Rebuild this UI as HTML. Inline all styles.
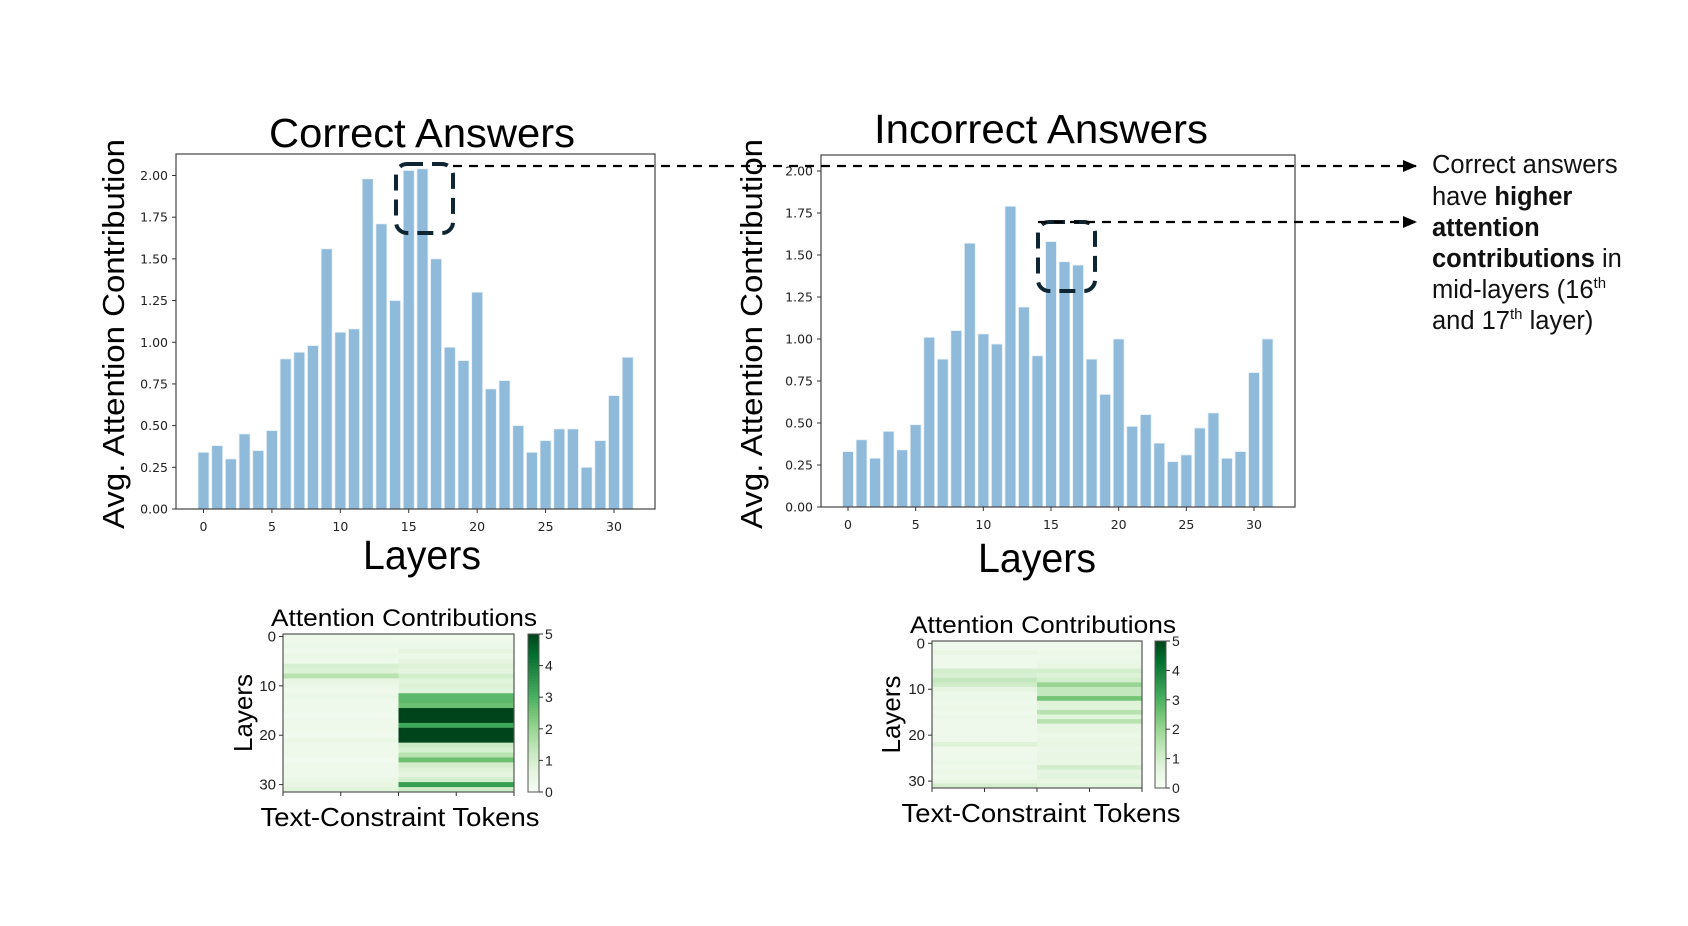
<!DOCTYPE html>
<html><head><meta charset="utf-8">
<style>
html,body{margin:0;padding:0;background:#fff;}
svg{display:block;font-family:"Liberation Sans",sans-serif;}
.tick{font-family:"DejaVu Sans","Liberation Sans",sans-serif;font-size:12.5px;fill:#222;}
</style></head>
<body>
<svg id="root" width="1688" height="926" viewBox="0 0 1688 926" xmlns="http://www.w3.org/2000/svg">
<defs>
<marker id="arr" markerWidth="14" markerHeight="12" refX="13" refY="6" orient="auto" markerUnits="userSpaceOnUse"><path d="M0,0 L14,6 L0,12 z" fill="#000"/></marker>
</defs>
<g id="g"></g>
</svg>
<script>
const layers = Array.from({length:32},(_,i)=>i);
const correctValues = [0.34,0.38,0.30,0.45,0.35,0.47,0.90,0.94,0.98,1.56,1.06,1.08,1.98,1.71,1.25,2.03,2.04,1.50,0.97,0.89,1.30,0.72,0.77,0.50,0.34,0.41,0.48,0.48,0.25,0.41,0.68,0.91];
const incorrectValues = [0.33,0.40,0.29,0.45,0.34,0.49,1.01,0.88,1.05,1.57,1.03,0.97,1.79,1.19,0.90,1.58,1.46,1.44,0.88,0.67,1.00,0.48,0.55,0.38,0.27,0.31,0.47,0.56,0.29,0.33,0.80,1.00];
const yTicks = [0,0.25,0.5,0.75,1.0,1.25,1.5,1.75,2.0];
const yTickLabels = ["0.00","0.25","0.50","0.75","1.00","1.25","1.50","1.75","2.00"];
const xTicks = [0,5,10,15,20,25,30];
const heatCorrectTok1 = [0.3,0.3,0.4,0.3,0.4,0.3,0.9,0.8,1.5,0.5,0.4,0.3,0.4,0.3,0.3,0.3,0.2,0.3,0.3,0.3,0.2,0.4,0.3,0.3,0.3,0.2,0.3,0.3,0.3,0.4,0.5,0.7];
const heatCorrectTok2 = [0.2,0.3,0.4,0.6,0.4,0.6,0.8,0.6,1.0,0.7,0.8,0.7,2.8,2.8,2.6,5,5,5,3.2,5,5,5,1.2,0.9,1.5,2.6,1.0,0.8,0.6,1.0,3.4,1.1];
const heatIncorrectTok1 = [0.3,0.3,0.5,0.3,0.3,0.3,1.0,0.9,1.3,1.1,0.6,0.4,0.4,0.3,0.4,0.3,0.4,0.3,0.3,0.3,0.3,0.3,0.8,0.3,0.3,0.3,0.4,0.3,0.4,0.3,0.5,1.0];
const heatIncorrectTok2 = [0.3,0.3,0.4,0.3,0.4,0.5,1.0,0.8,1.0,2.0,1.3,1.3,2.5,0.8,0.7,1.5,0.7,1.5,0.5,0.5,0.4,0.5,0.5,0.4,0.5,0.5,0.5,1.0,0.6,0.7,0.5,0.7];
const cbTicks = [0,1,2,3,4,5];

const NS="http://www.w3.org/2000/svg";
const G=document.getElementById('g');
function mk(tag,attrs,parent,text){const e=document.createElementNS(NS,tag);for(const k in attrs)e.setAttribute(k,attrs[k]);if(text!==undefined)e.textContent=text;(parent||G).appendChild(e);return e;}

const greens=[[247,252,245],[229,245,224],[199,233,192],[161,217,155],[116,196,118],[65,171,93],[35,139,69],[0,109,44],[0,68,27]];
function greenColor(v){let t=Math.max(0,Math.min(1,v/5))*8;const i=Math.min(7,Math.floor(t));const f=t-i;const a=greens[i],b=greens[i+1];return `rgb(${a.map((c,k)=>Math.round(c+(b[k]-c)*f)).join(',')})`;}

function barChart(o){
  const grp=mk('g',{});
  
  
  const x=v=>o.x0+(v)*(o.x30-o.x0)/30;
  const y=v=>o.bottom-v*(o.bottom-o.y2)/2;
  const bw=(o.x30-o.x0)/30*0.8;
  layers.forEach((l,i)=>{
    const r=mk('rect',{x:x(l)-bw/2,y:y(o.values[i]),width:bw,height:o.bottom-y(o.values[i]),fill:'#8fbada',stroke:'#e4eff7','stroke-width':0.8},grp);
    
    
  });
  const ax=mk('rect',{x:o.left,y:o.top,width:o.right-o.left,height:o.bottom-o.top,fill:'none',stroke:'#444','stroke-width':1.2},grp);
  
  
  yTicks.forEach((t,i)=>{
    mk('line',{x1:o.left-4,x2:o.left,y1:y(t),y2:y(t),stroke:'#333'},grp);
    const tx=mk('text',{x:o.left-8,y:y(t)+4.5,'text-anchor':'end',class:'tick'},grp,yTickLabels[i]);
    
    
  });
  xTicks.forEach(t=>{
    mk('line',{x1:x(t),x2:x(t),y1:o.bottom,y2:o.bottom+4,stroke:'#333'},grp);
    const tx=mk('text',{x:x(t),y:o.bottom+22,'text-anchor':'middle',class:'tick'},grp,String(t));
    
    
  });
  const ti=mk('text',{x:o.titleX,y:o.titleY,'text-anchor':'middle','font-size':41,textLength:o.titleW,lengthAdjust:'spacingAndGlyphs'},grp,o.title);
  
  
  const xl=mk('text',{x:o.xlX,y:o.xlY,'text-anchor':'middle','font-size':41,textLength:118,lengthAdjust:'spacingAndGlyphs'},grp,'Layers');
  
  
  const yl=mk('text',{x:0,y:0,'text-anchor':'middle','font-size':31,textLength:390,lengthAdjust:'spacingAndGlyphs',transform:`translate(${o.ylX},${o.ylY}) rotate(-90)`},grp,'Avg. Attention Contribution');
  
  
}
barChart({name:'correct-bar-chart',values:correctValues,left:176,right:655,top:154,bottom:509,y2:175.5,x0:203.5,x30:614,title:'Correct Answers',titleW:306,titleX:422,titleY:147,xlX:422,xlY:569,ylX:124,ylY:334});
barChart({name:'incorrect-bar-chart',values:incorrectValues,left:821,right:1295,top:155,bottom:507,y2:171,x0:848,x30:1254,title:'Incorrect Answers',titleW:334,titleX:1041,titleY:143,xlX:1037,xlY:572,ylX:762,ylY:334});

function heatmap(o){
  const grp=mk('g',{});
  
  
  const rh=(o.bottom-o.top)/32, cw=(o.right-o.left)/2;
  [o.c1,o.c2].forEach((col,c)=>{
    col.forEach((v,r)=>{
      const cell=mk('rect',{x:o.left+c*cw,y:o.top+r*rh,width:cw+0.5,height:rh+0.5,fill:greenColor(v)},grp);
      
      
    });
  });
  mk('rect',{x:o.left,y:o.top,width:o.right-o.left,height:o.bottom-o.top,fill:'none',stroke:'#555','stroke-width':1.2},grp);
  [0,10,20,30].forEach(t=>{
    const yy=o.top+(t+0.5)*rh;
    mk('line',{x1:o.left-4,x2:o.left,y1:yy,y2:yy,stroke:'#333'},grp);
    const tx=mk('text',{x:o.left-7,y:yy+5,'text-anchor':'end','font-size':15,fill:'#222'},grp,String(t));
    
    
  });
  [0,0.5,1,1.5,2].forEach(t=>{const xx=o.left+t*cw;mk('line',{x1:xx,x2:xx,y1:o.bottom,y2:o.bottom+4,stroke:'#333'},grp);});
  const cbH=o.bottom-o.top, steps=60;
  for(let i=0;i<steps;i++){mk('rect',{x:o.cbX,y:o.top+i*cbH/steps,width:11,height:cbH/steps+0.6,fill:greenColor(5*(1-(i+0.5)/steps))},grp);}
  const cb=mk('rect',{x:o.cbX,y:o.top,width:11,height:cbH,fill:'none',stroke:'#555'},grp);
  
  
  cbTicks.forEach(t=>{
    const yy=o.bottom-t*cbH/5;
    mk('line',{x1:o.cbX+11,x2:o.cbX+15,y1:yy,y2:yy,stroke:'#333'},grp);
    const tx=mk('text',{x:o.cbX+17,y:yy+5,'font-size':14,fill:'#222'},grp,String(t));
    
    
  });
  const ti=mk('text',{x:o.titleX,y:o.top-8,'text-anchor':'middle','font-size':24,textLength:266,lengthAdjust:'spacingAndGlyphs'},grp,'Attention Contributions');
  
  
  const xl=mk('text',{x:o.xlX,y:o.bottom+34,'text-anchor':'middle','font-size':26,textLength:279,lengthAdjust:'spacingAndGlyphs'},grp,'Text-Constraint Tokens');
  
  
  const yl=mk('text',{x:0,y:0,'text-anchor':'middle','font-size':26,transform:`translate(${o.ylX},${(o.top+o.bottom)/2}) rotate(-90)`},grp,'Layers');
  
  
}
heatmap({name:'correct-heatmap',c1:heatCorrectTok1,c2:heatCorrectTok2,left:283,right:514,top:634,bottom:792,cbX:528,titleX:404,xlX:400,ylX:252});
heatmap({name:'incorrect-heatmap',c1:heatIncorrectTok1,c2:heatIncorrectTok2,left:932,right:1142,top:641,bottom:788,cbX:1155,titleX:1043,xlX:1041,ylX:900});

function box(x,y,w,h,name){const r=mk('rect',{x,y,width:w,height:h,rx:11,fill:'none',stroke:'#0e2533','stroke-width':4,'stroke-dasharray':'16 9'});}
box(396,164,57,69,'highlight-box-correct');
box(1038,222,57,69,'highlight-box-incorrect');
const l1=mk('line',{x1:453,y1:166,x2:1416,y2:166,stroke:'#000','stroke-width':2.2,'stroke-dasharray':'9 7','marker-end':'url(#arr)'});


const l2=mk('line',{x1:1038,y1:222,x2:1416,y2:222,stroke:'#000','stroke-width':2.2,'stroke-dasharray':'9 7','marker-end':'url(#arr)'});


const note=mk('text',{x:1432,y:173,'font-size':25.5,fill:'#111'});


note.innerHTML='<tspan x="1432" y="173">Correct answers</tspan><tspan x="1432" y="205">have <tspan font-weight="bold">higher</tspan></tspan><tspan x="1432" y="236" font-weight="bold">attention</tspan><tspan x="1432" y="267"><tspan font-weight="bold">contributions</tspan> in</tspan><tspan x="1432" y="298">mid-layers (16<tspan font-size="15" dy="-10">th</tspan></tspan><tspan x="1432" y="329">and 17<tspan font-size="15" dy="-10">th</tspan><tspan dy="10"> layer)</tspan></tspan>';
</script>
</body></html>
